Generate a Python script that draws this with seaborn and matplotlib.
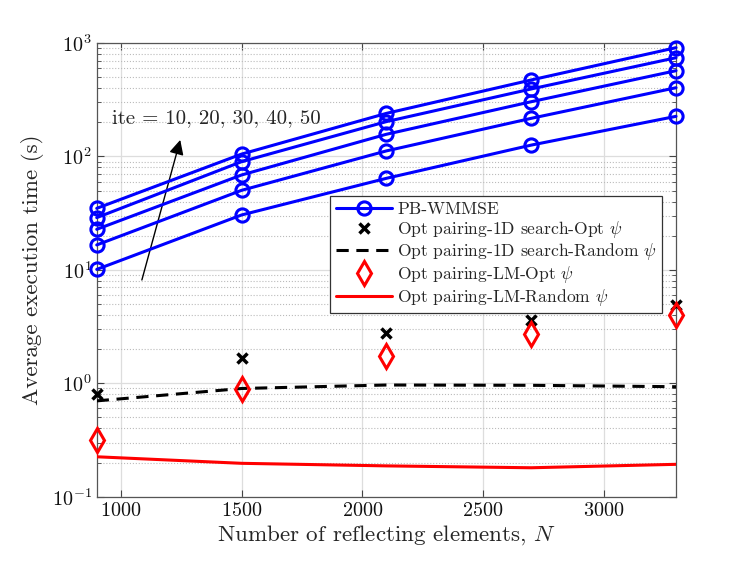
import numpy as np
import pandas as pd
import seaborn as sns
import matplotlib
matplotlib.use('Agg')
from matplotlib import pyplot as plt
from matplotlib.ticker import LogLocator, NullFormatter

# number of reflecting elements
N = [900, 1500, 2100, 2700, 3300]

# PB-WMMSE, one curve per number of iterations
ite = [10, 20, 30, 40, 50]
pb_ite10 = [10.1, 30.5, 64.2, 126, 226]
pb_ite20 = [16.6, 50.3, 112, 217, 404]
pb_ite30 = [22.8, 68.7, 157, 304, 571]
pb_ite40 = [28.9, 90.0, 203, 394, 743]
pb_ite50 = [34.9, 105, 240, 473, 911]

search_opt = [0.805, 1.66, 2.76, 3.62, 4.90]
search_rand = [0.70, 0.90, 0.966, 0.96, 0.933]
lm_opt = [0.316, 0.89, 1.74, 2.70, 4.0]
lm_rand = [0.225, 0.197, 0.187, 0.180, 0.193]

sns.set_style('ticks')
plt.rcParams['font.family'] = ['cmr10', 'DejaVu Serif']
plt.rcParams['mathtext.fontset'] = 'cm'
plt.rcParams['axes.formatter.use_mathtext'] = True
plt.rcParams['axes.unicode_minus'] = False

pb = pd.DataFrame({
    'N': N * 5,
    'time': pb_ite10 + pb_ite20 + pb_ite30 + pb_ite40 + pb_ite50,
    'ite': np.repeat(ite, len(N)),
})

fig = plt.figure(figsize=(7.47, 5.61), dpi=100)
ax = fig.add_axes([0.1295, 0.1146, 0.7755, 0.8086])

for i, k in enumerate(ite):
    d = pb[pb.ite == k]
    sns.lineplot(x=d.N, y=d.time, ax=ax, color='blue', lw=2.2, marker='o',
                 markersize=9.5, markeredgewidth=2.2, markerfacecolor='none',
                 markeredgecolor='blue', label='PB-WMMSE' if i == 0 else None,
                 legend=False, zorder=5, clip_on=False)

sns.lineplot(x=N, y=search_opt, ax=ax, color='black', linestyle='', marker='x',
             markersize=7.5, markeredgewidth=2.5, markeredgecolor='black',
             label='Opt pairing-1D search-Opt $\\psi$',
             legend=False, zorder=4, clip_on=False)
sns.lineplot(x=N, y=search_rand, ax=ax, color='black', lw=2.2, linestyle=(0, (4, 2.5)),
             label='Opt pairing-1D search-Random $\\psi$', legend=False, zorder=3)
sns.lineplot(x=N, y=lm_opt, ax=ax, color='red', linestyle='', marker='d',
             markersize=12, markeredgewidth=2.2, markerfacecolor='none',
             markeredgecolor='red', label='Opt pairing-LM-Opt $\\psi$',
             legend=False, zorder=4, clip_on=False)
sns.lineplot(x=N, y=lm_rand, ax=ax, color='red', lw=2.2,
             label='Opt pairing-LM-Random $\\psi$', legend=False, zorder=3)

ax.set_yscale('log')
ax.set_ylim(0.1, 1000)
ax.set_xlim(900, 3300)
ax.set_xticks([1000, 1500, 2000, 2500, 3000])
ax.yaxis.set_major_locator(LogLocator(base=10, numticks=10))
ax.yaxis.set_minor_locator(LogLocator(base=10, subs=np.arange(2, 10), numticks=20))
ax.yaxis.set_minor_formatter(NullFormatter())

ax.grid(True, which='major', color='#dddddd', lw=0.9, linestyle='-')
ax.grid(True, which='minor', axis='y', color='#bbbbbb', lw=0.8, linestyle=':')
ax.set_axisbelow(True)

for s in ax.spines.values():
    s.set_color('#555555')
    s.set_linewidth(0.9)
ax.tick_params(which='both', direction='in', top=True, right=True,
               color='#444444', labelsize=14.5, labelcolor='#111111')
ax.tick_params(which='major', length=5)
ax.tick_params(which='minor', length=3)

ax.set_xlabel('Number of reflecting elements, $N$', fontsize=16.6, labelpad=3)
ax.set_ylabel('Average execution time (s)', fontsize=16.6, labelpad=6)

# arrow showing the direction of increasing iterations
ax.annotate('', xy=(1246, 140), xytext=(1087, 8.15),
            arrowprops=dict(arrowstyle='-|>', color='black', lw=1.0,
                            mutation_scale=22, shrinkA=0, shrinkB=0))
ax.text(962, 217, 'ite = 10, 20, 30, 40, 50', fontsize=15, va='center', ha='left')

leg = ax.legend(loc='upper right', bbox_to_anchor=(0.976, 0.662), borderaxespad=0,
                fontsize=12.6, frameon=True, fancybox=False, framealpha=1,
                edgecolor='#333333', handlelength=3.2, handletextpad=0.3,
                labelspacing=0.1, borderpad=0.3)
leg.get_frame().set_linewidth(0.9)

fig.savefig('out.png', dpi=100)
